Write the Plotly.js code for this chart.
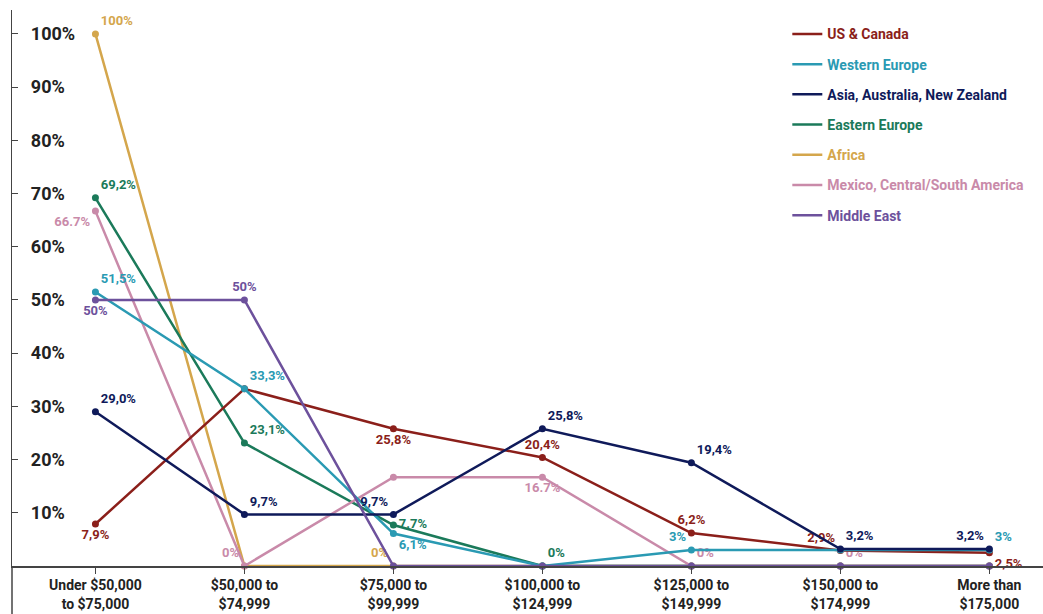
<!DOCTYPE html>
<html><head><meta charset="utf-8">
<script src="https://cdn.plot.ly/plotly-3.0.1.min.js"></script>
<style>html,body{margin:0;padding:0;background:#fff}#c{width:1043px;height:614px}</style>
</head><body><div id="c"></div>
<script>
const categories = ["Under $50,000<br>to $75,000","$50,000 to<br>$74,999","$75,000 to<br>$99,999","$100,000 to<br>$124,999","$125,000 to<br>$149,999","$150,000 to<br>$174,999","More than<br>$175,000"];
const seriesNames = ["US & Canada","Western Europe","Asia, Australia, New Zealand","Eastern Europe","Africa","Mexico, Central/South America","Middle East"];
const seriesColors = ["#8b1f1a","#2a9ab3","#0f1a5a","#1b7a5a","#d4a64c","#c98aa9","#6d519c"];
const usCanada     = [7.9, 33.3, 25.8, 20.4, 6.2, 2.9, 2.5];
const westEurope   = [51.5, 33.3, 6.1, 0, 3, 3, 3];
const asiaAusNz    = [29.0, 9.7, 9.7, 25.8, 19.4, 3.2, 3.2];
const eastEurope   = [69.2, 23.1, 7.7, 0, 0, 0, 0];
const africa       = [100, 0, 0, 0, 0, 0, 0];
const mexicoLatAm  = [66.7, 0, 16.7, 16.7, 0, 0, 0];
const middleEast   = [50, 50, 0, 0, 0, 0, 0];
// point labels as printed in the chart ("" = no label)
const usCanadaLabels    = ["7,9%","","25,8%","20,4%","6,2%","2,9%","2,5%"];
const westEuropeLabels  = ["51,5%","33,3%","6,1%","","3%","","3%"];
const asiaAusNzLabels   = ["29,0%","9,7%","9,7%","25,8%","19,4%","3,2%","3,2%"];
const eastEuropeLabels  = ["69,2%","23,1%","7.7%","0%","","",""];
const africaLabels      = ["100%","","0%","","","",""];
const mexicoLatAmLabels = ["66.7%","0%","","16.7%","0%","0%",""];
const middleEastLabels  = ["50%","50%","","","","",""];
const yTickVals = [10,20,30,40,50,60,70,80,90,100];
const yTickText = ["10%","20%","30%","40%","50%","60%","70%","80%","90%","100%"];

const values = [usCanada, westEurope, asiaAusNz, eastEurope, africa, mexicoLatAm, middleEast];
const labels = [usCanadaLabels, westEuropeLabels, asiaAusNzLabels, eastEuropeLabels, africaLabels, mexicoLatAmLabels, middleEastLabels];
const positions = [
  ["bottom center","top center","bottom center","top center","top center","top left","bottom right"],
  ["top right","top right","bottom right","top center","top left","top center","top right"],
  ["top right","top right","top left","top right","top right","top right","top left"],
  ["top right","top right","middle right","top right","top center","top center","top center"],
  ["top right","top center","top left","top center","top center","top center","top center"],
  ["bottom left","top left","top center","bottom center","top right","top right","top center"],
  ["bottom center","top center","top center","top center","top center","top center","top center"]
];
const order = [4,3,5,0,1,2,6];
const traces = [];
order.forEach(i => {
  traces.push({
    type:"scatter", mode:"lines+markers+text",
    x: categories, y: values[i], text: labels[i], textposition: positions[i],
    line:{color:seriesColors[i], width:2.5}, marker:{color:seriesColors[i], size:7},
    textfont:{family:"Roboto, sans-serif", size:13, color:seriesColors[i], weight:"bold"},
    cliponaxis:false, showlegend:false, hoverinfo:"skip"
  });
});
seriesNames.forEach((n,i) => {
  traces.push({
    type:"scatter", mode:"lines", x:[null], y:[null],
    name:'<span style="color:'+seriesColors[i]+'">'+n.replace('&','&amp;')+'</span>',
    line:{color:seriesColors[i], width:2.5}, legendgroup:"g"+i, showlegend:true
  });
});

const pad = "\u00A0\u00A0\u00A0";
const layout = {
  width:1043, height:614,
  margin:{l:12, r:0, t:10, b:48},
  paper_bgcolor:"#fff", plot_bgcolor:"#fff",
  font:{family:"Roboto, sans-serif", color:"#222"},
  xaxis:{type:"category", range:[-0.56,6.36], showgrid:false, zeroline:false,
    showline:true, linecolor:"#444", linewidth:1.5, ticks:"outside", ticklen:6, tickcolor:"#444",
    tickfont:{family:"Roboto, sans-serif", size:14, color:"#222", weight:"bold"}},
  yaxis:{range:[0,104.5], showgrid:false, zeroline:false, showline:true, linecolor:"#444", linewidth:1.5,
    tickvals:yTickVals, ticktext:yTickText.map(t => pad + t), ticks:"inside", ticklen:6, tickcolor:"#444",
    ticklabelposition:"inside",
    tickfont:{family:"Roboto, sans-serif", size:18, color:"#222", weight:"bold"}},
  shapes:[{type:"line", xref:"paper", yref:"paper", x0:0, x1:0, y0:0, y1:-0.1,
    line:{color:"#444", width:1.5}}],
  showlegend:true,
  legend:{x:0.752, y:0.985, xanchor:"left", yanchor:"top", bgcolor:"rgba(0,0,0,0)",
    traceorder:"grouped", tracegroupgap:9,
    font:{family:"Roboto, sans-serif", size:14, weight:"bold"}}
};
Plotly.newPlot("c", traces, layout, {displayModeBar:false, staticPlot:true});
</script>
</body></html>
